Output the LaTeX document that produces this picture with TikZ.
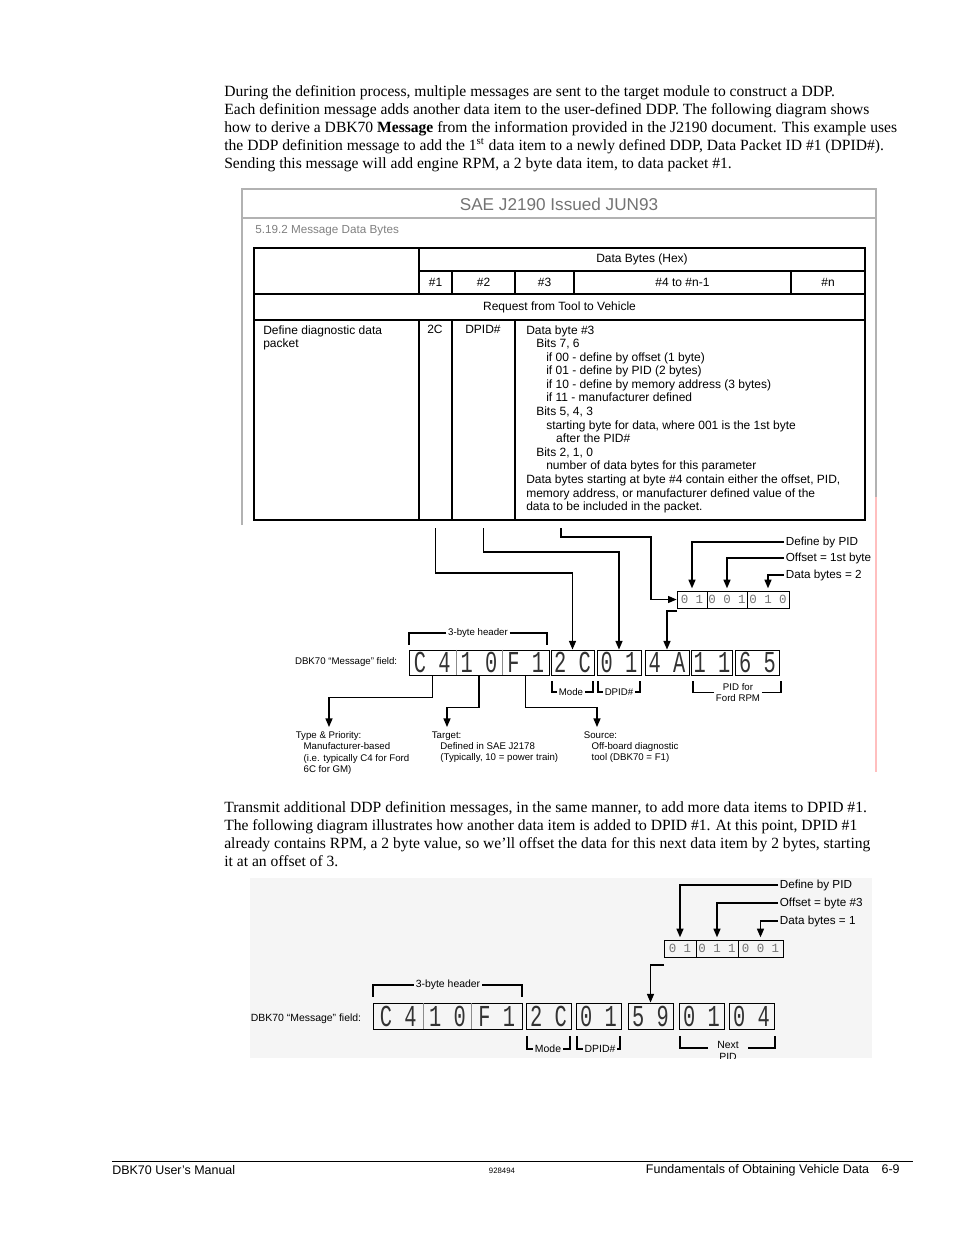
\documentclass[tikz,border=0pt]{standalone}
\usepackage{fontspec}
\setmainfont{Liberation Serif}
\newfontfamily\arial{Liberation Sans}
\newfontfamily\msgmono[FakeStretch=0.67]{Liberation Mono}
\newfontfamily\bitmono{Liberation Mono}
\usetikzlibrary{arrows.meta,positioning,calc}

\newdimen\pxu \pxu=0.6415pt
\newcommand\bodyfont{\fontsize{10}{11.55}\selectfont}
\newcommand\cellfont{\arial\fontsize{7.7}{8.72}\selectfont}
\newcommand\lblfont{\arial\fontsize{7.5}{9}\selectfont}
\newcommand\tinyfont{\arial\fontsize{6.2}{7.1}\selectfont}
\newcommand\smallfont{\arial\fontsize{6.7}{7.6}\selectfont}
\newcommand\msgfont{\msgmono\fontsize{19.5}{19.5}\selectfont}
\newcommand\bitfont{\bitmono\fontsize{8}{8}\selectfont}

\begin{document}
\begin{tikzpicture}[
    x=0.6415pt, y=-0.6415pt,
    body/.style={font=\bodyfont, align=left, inner sep=0pt, anchor=north west},
    cell/.style={font=\cellfont, inner sep=0pt},
    lbl/.style={font=\lblfont, inner sep=1pt, anchor=west},
    note/.style={font=\tinyfont, inner sep=1pt},
    note2/.style={font=\smallfont, inner sep=1pt},
    msgbox/.style={draw, line width=0.6pt, minimum height=25\pxu, inner sep=0pt},
    seg/.style={minimum height=25\pxu, inner sep=0pt, font=\msgfont, text=black!80},
    bitseg/.style={draw, line width=0.5pt, minimum height=17\pxu, inner sep=0pt, font=\bitfont, text=black!55},
    tblline/.style={line width=1.1pt},
    tblthin/.style={line width=0.8pt},
    frameline/.style={black!30, line width=0.8pt},
    divider/.style={black!45, line width=0.5pt},
    brk/.style={line width=0.8pt},
    conn/.style={-{Triangle[length=5.5pt,width=4.5pt]}, line width=0.8pt}
  ]
  \useasboundingbox (0,0) rectangle (954,1235);

  % first paragraph
  \node[body] (para1) at (224,85) {During the definition process, multiple messages are sent to the target module to construct a DDP.\\
    Each definition message adds another data item to the user-defined DDP. The following diagram shows\\
    how to derive a DBK70 \textbf{Message} from the information provided in the J2190 document. This example uses\\
    the DDP definition message to add the 1\textsuperscript{st} data item to a newly defined DDP, Data Packet ID \#1 (DPID\#).\\
    Sending this message will add engine RPM, a 2 byte data item, to data packet \#1.};

  % J2190 excerpt frame
  \draw[frameline] (242,525) -- (242,189) -- (876,189) -- (876,497);
  \draw[frameline] (242,218) -- (876,218);
  \draw[red!25, line width=0.8pt] (876,497) -- (876,772);
  \node[font=\arial\fontsize{11}{13}\selectfont, text=black!55] (title) at (559,204) {SAE J2190 Issued JUN93};
  \node[font=\arial\fontsize{7.5}{9}\selectfont, text=black!50, anchor=west, inner sep=0pt] (sect) at (255,231) {5.19.2 Message Data Bytes};

  % table
  \draw[tblline] (254,248) rectangle (865,520);
  \draw[tblthin] (419,248) -- (419,294) (419,271) -- (865,271);
  \draw[tblthin] (254,294) -- (865,294) (254,320) -- (865,320);
  \foreach \cx in {452,515,574,791} \draw[tblthin] (\cx,271) -- (\cx,294);
  \foreach \cx in {419,452,515} \draw[tblthin] (\cx,320) -- (\cx,520);

  \node[cell] (hex) at (642,259) {Data Bytes (Hex)};
  \node[cell] (c1) at (435.5,282) {\#1};
  \node[cell] (c2) at (483.5,282) {\#2};
  \node[cell] (c3) at (544.5,282) {\#3};
  \node[cell] (c4) at (682.5,282) {\#4 to \#n-1};
  \node[cell] (cn) at (828,282) {\#n};
  \node[cell] (req) at (559.5,307) {Request from Tool to Vehicle};
  \node[cell, align=left, anchor=north west] (ddp) at (263,325) {Define diagnostic data\\packet};
  \node[cell, anchor=north west] (v2c) at (427,325) {2C};
  \node[cell, anchor=north west] (vdpid) at (465,325) {DPID\#};
  \node[cell, align=left, anchor=north west] (desc) at (526,325) {Data byte \#3\\
    \hspace*{6.4pt}Bits 7, 6\\
    \hspace*{12.8pt}if 00 - define by offset (1 byte)\\
    \hspace*{12.8pt}if 01 - define by PID (2 bytes)\\
    \hspace*{12.8pt}if 10 - define by memory address (3 bytes)\\
    \hspace*{12.8pt}if 11 - manufacturer defined\\
    \hspace*{6.4pt}Bits 5, 4, 3\\
    \hspace*{12.8pt}starting byte for data, where 001 is the 1st byte\\
    \hspace*{19.2pt}after the PID\#\\
    \hspace*{6.4pt}Bits 2, 1, 0\\
    \hspace*{12.8pt}number of data bytes for this parameter\\
    Data bytes starting at byte \#4 contain either the offset, PID,\\
    memory address, or manufacturer defined value of the\\
    data to be included in the packet.};

  % first message field
  \node[note, anchor=east] (fld1) at (399,662) {DBK70 “Message” field:};
  \node[msgbox, minimum width=140\pxu] (hdr1) at (479,662.5) {};
  \node[seg, minimum width=46.67\pxu] (h1a) at (432.3,662.5) {C 4};
  \node[seg, minimum width=46.67\pxu] (h1b) at (479,662.5) {1 0};
  \node[seg, minimum width=46.67\pxu] (h1c) at (525.7,662.5) {F 1};
  \draw[divider] (h1a.north east) -- (h1a.south east);
  \draw[divider] (h1c.north west) -- (h1c.south west);
  \node[msgbox, seg, draw, minimum width=43\pxu] (m2c) at (572.5,662.5) {2 C};
  \node[msgbox, seg, draw, minimum width=44\pxu] (m01) at (619,662.5) {0 1};
  \node[msgbox, seg, draw, minimum width=44\pxu] (m4a) at (667,662.5) {4 A};
  \node[msgbox, seg, draw, minimum width=41\pxu] (m11) at (712,662.5) {1 1};
  \node[msgbox, seg, draw, minimum width=44\pxu] (m65) at (757.5,662.5) {6 5};

  \node[note] (hb1) at (478,633) {3-byte header};
  \draw[brk] (hb1.west) -| (409,645);
  \draw[brk] (hb1.east) -| (547,645);
  \node[note] (md1) at (571,692) {Mode};
  \draw[brk] (md1.west) -| (552,681);
  \draw[brk] (md1.east) -| (593,681);
  \node[note] (dp1) at (619,692) {DPID\#};
  \draw[brk] (dp1.west) -| (598,681);
  \draw[brk] (dp1.east) -| (640,681);
  \node[note, align=center] (pf1) at (738,692.5) {PID for\\Ford RPM};
  \draw[brk] (pf1.west) -| (693,681);
  \draw[brk] (pf1.east) -| (781,681);

  % bit layout of data byte #3
  \node[bitseg, minimum width=30\pxu] (b1a) at (692,599.5) {0 1};
  \node[bitseg, minimum width=40\pxu] (b1b) at (727,599.5) {0 0 1};
  \node[bitseg, minimum width=42\pxu] (b1c) at (768,599.5) {0 1 0};
  \node[lbl] (pid1) at (784,542) {Define by PID};
  \node[lbl] (off1) at (784,558) {Offset = 1st byte};
  \node[lbl] (cnt1) at (784,575) {Data bytes = 2};
  \draw[conn, shorten >=1.5pt] (pid1.west) -| (b1a.north);
  \draw[conn, shorten >=1.5pt] (off1.west) -| (b1b.north);
  \draw[conn, shorten >=1.5pt] (cnt1.west) -| (b1c.north);

  % table columns down to the message
  \coordinate (s2c) at (435.5,528);
  \coordinate (sdp) at (483.5,528);
  \coordinate (sb3) at (561,528);
  \coordinate (b1o) at (677,611);
  \draw[conn] (s2c) -- ++(0,45) -| (m2c.north);
  \draw[conn] (sdp) -- ++(0,24) -| (m01.north);
  \draw[conn] (sb3) -- ++(0,9) -- ++(90,0) |- (b1a.west);
  \draw[conn] (b1o) -| (m4a.north);

  % header bytes explained
  \coordinate (tpin) at (329,727);
  \coordinate (tgin) at (447,727);
  \coordinate (srin) at (597,727);
  \draw[conn] (h1a.south) -- ++(0,22) -| (tpin);
  \draw[conn] (h1b.south) -- ++(0,32) -| (tgin);
  \draw[conn] (h1c.south) -- ++(0,32) -| (srin);
  \node[note, align=left, anchor=north west] (prio) at (294,730) {Type \& Priority:\\
    \hspace*{5pt}Manufacturer-based\\
    \hspace*{5pt}(i.e. typically C4 for Ford\\
    \hspace*{5pt}6C for GM)};
  \node[note, align=left, anchor=north west] (targ) at (430,730) {Target:\\
    \hspace*{5.5pt}Defined in SAE J2178\\
    \hspace*{5.5pt}(Typically, 10 = power train)};
  \node[note, align=left, anchor=north west] (srce) at (582,730) {Source:\\
    \hspace*{5pt}Off-board diagnostic\\
    \hspace*{5pt}tool (DBK70 = F1)};

  % second paragraph
  \node[body] (para2) at (224,801) {Transmit additional DDP definition messages, in the same manner, to add more data items to DPID \#1.\\
    The following diagram illustrates how another data item is added to DPID \#1. At this point, DPID \#1\\
    already contains RPM, a 2 byte value, so we’ll offset the data for this next data item by 2 bytes, starting\\
    it at an offset of 3.};

  % second message field
  \fill[black!4] (250,878) rectangle (872,1058);
  \node[note2, anchor=west] (fld2) at (249,1019) {DBK70 “Message” field:};
  \node[msgbox, minimum width=149\pxu, minimum height=26\pxu] (hdr2) at (447.5,1016) {};
  \node[seg, minimum width=49.67\pxu] (h2a) at (398.3,1016) {C 4};
  \node[seg, minimum width=49.67\pxu] (h2b) at (447.5,1016) {1 0};
  \node[seg, minimum width=49.67\pxu] (h2c) at (496.7,1016) {F 1};
  \draw[divider] (h2a.north east) -- (h2a.south east);
  \draw[divider] (h2c.north west) -- (h2c.south west);
  \node[msgbox, seg, draw, minimum width=45\pxu, minimum height=26\pxu] (n2c) at (548.5,1016) {2 C};
  \node[msgbox, seg, draw, minimum width=45\pxu, minimum height=26\pxu] (n01) at (598.5,1016) {0 1};
  \node[msgbox, seg, draw, minimum width=45\pxu, minimum height=26\pxu] (n59) at (650.5,1016) {5 9};
  \node[msgbox, seg, draw, minimum width=45\pxu, minimum height=26\pxu] (n01b) at (701.5,1016) {0 1};
  \node[msgbox, seg, draw, minimum width=45\pxu, minimum height=26\pxu] (n04) at (751.5,1016) {0 4};

  \node[note2] (hb2) at (448,985) {3-byte header};
  \draw[brk] (hb2.west) -| (373,997);
  \draw[brk] (hb2.east) -| (522,997);
  \node[note2] (md2) at (548,1049) {Mode};
  \draw[brk] (md2.west) -| (527,1036);
  \draw[brk] (md2.east) -| (570,1036);
  \node[note2] (dp2) at (600,1049) {DPID\#};
  \draw[brk] (dp2.west) -| (577,1036);
  \draw[brk] (dp2.east) -| (620,1036);
  \begin{scope}
    \clip (250,878) rectangle (872,1058);
    \node[note2, align=center] (np2) at (728,1050.5) {Next\\PID};
  \end{scope}
  \draw[brk] (708,1048) -| (680,1036);
  \draw[brk] (748,1048) -| (775,1036);

  \node[bitseg, minimum width=32\pxu] (b2a) at (680,948.5) {0 1};
  \node[bitseg, minimum width=42\pxu] (b2b) at (717,948.5) {0 1 1};
  \node[bitseg, minimum width=45\pxu] (b2c) at (760.5,948.5) {0 0 1};
  \node[lbl] (pid2) at (778,885) {Define by PID};
  \node[lbl] (off2) at (778,903) {Offset = byte \#3};
  \node[lbl] (cnt2) at (778,921) {Data bytes = 1};
  \draw[conn, shorten >=1.5pt] (pid2.west) -| (b2a.north);
  \draw[conn, shorten >=1.5pt] (off2.west) -| (b2b.north);
  \draw[conn, shorten >=1.5pt] (cnt2.west) -| (b2c.north);
  \coordinate (b2o) at (664,965);
  \draw[conn] (b2o) -| (n59.north);

  % footer
  \draw[line width=0.5pt] (112,1161) -- (913,1161);
  \node[font=\arial\fontsize{8}{9}\selectfont, anchor=west, inner sep=0pt] (fman) at (112,1170) {DBK70 User’s Manual};
  \node[font=\arial\fontsize{5}{6}\selectfont, inner sep=0pt] (fnum) at (502,1171) {928494};
  \node[font=\arial\fontsize{8}{9}\selectfont, anchor=east, inner sep=0pt] (fsec) at (900,1170) {Fundamentals of Obtaining Vehicle Data\hspace{8pt}6-9};
\end{tikzpicture}
\end{document}
